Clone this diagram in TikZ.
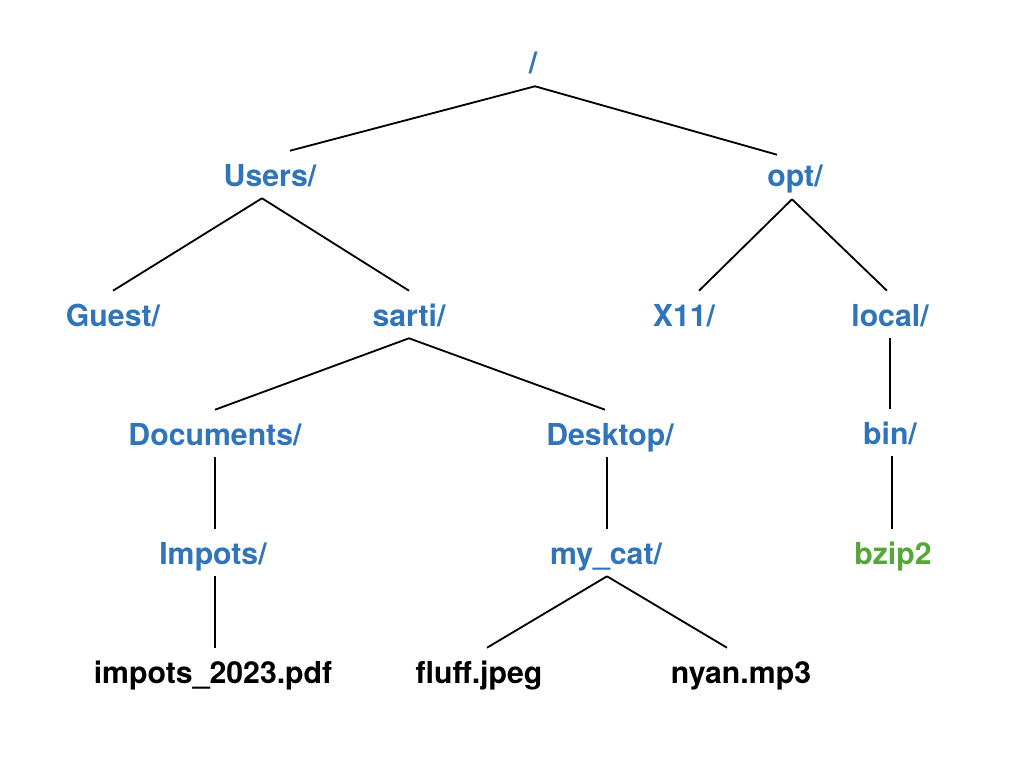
\documentclass[tikz,border=0pt]{standalone}
\usepackage{fontspec}
\setmainfont{TeX Gyre Heros}
\usetikzlibrary{calc}
\definecolor{dirblue}{RGB}{48,116,186}
\definecolor{filegreen}{RGB}{86,166,58}

\begin{document}
\begin{tikzpicture}[x=0.025cm,y=-0.025cm,
                    entry/.style={anchor=base,inner xsep=2pt,inner ysep=0.1cm,text height=0.775cm,text depth=0.2cm,font={\fontsize{21.5}{24}\selectfont\bfseries}},
                    dir/.style={entry,text=dirblue},
                    file/.style={entry,text=black},
                    exe/.style={entry,text=filegreen},
                    link/.style={draw=black,line width=1.3pt}]
            \useasboundingbox (0,0) rectangle (1024,768);

            \node[dir] (root) at (533,74) {/};

            \node[dir] (users) at (270,186) {Users/};
            \node[dir] (opt) at (795,187) {opt/};

            \node[dir] (guest) at (113,326) {Guest/};
            \node[dir] (sarti) at (409,326) {sarti/};
            \node[dir] (x11) at (684,326) {X11/};
            \node[dir] (local) at (890,326) {local/};

            \node[dir] (documents) at (215,445) {Documents/};
            \node[dir] (desktop) at (610,445) {Desktop/};
            \node[dir] (bin) at (890,444) {bin/};

            \node[dir] (impots) at (213,564) {Impots/};
            \node[dir] (mycat) at (606,564) {my\_cat/};
            \node[exe] (bzip) at (893,564) {bzip2};

            \node[file] (pdf) at (213,683) {impots\_2023.pdf};
            \node[file] (fluff) at (479,683) {fluff.jpeg};
            \node[file] (nyan) at (741,683) {nyan.mp3};

            \draw[link] ($ (root.south) + (2,0) $) -- ($ (users.north) + (20,0) $);
            \draw[link] ($ (root.south) + (2,0) $) -- ($ (opt.north) + (-18,3) $);

            \draw[link] ($ (users.south) + (-8,0) $) -- (guest.north);
            \draw[link] ($ (users.south) + (-8,0) $) -- (sarti.north);
            \draw[link] ($ (opt.south) + (-3,0) $) -- ($ (x11.north) + (15,0) $);
            \draw[link] ($ (opt.south) + (-3,0) $) -- ($ (local.north) + (-3,0) $);

            \draw[link] (sarti.south) -- (documents.north);
            \draw[link] (sarti.south) -- ($ (desktop.north) + (-5,0) $);
            \draw[link] (local.south) -- (bin.north);

            \draw[link] (documents.south) -- (impots.north -| documents.south);
            \draw[link] ($ (desktop.south) + (-3,0) $) -- ($ (mycat.north) + (1,0) $);
            \draw[link] ($ (bin.south) + (2,0) $) -- ($ (bzip.north) + (-1,0) $);

            \draw[link] ($ (impots.south) + (2,0) $) -- ($ (pdf.north) + (2,0) $);
            \draw[link] ($ (mycat.south) + (1,0) $) -- ($ (fluff.north) + (8,0) $);
            \draw[link] ($ (mycat.south) + (1,0) $) -- ($ (nyan.north) + (-14,0) $);
        \end{tikzpicture}
\end{document}
